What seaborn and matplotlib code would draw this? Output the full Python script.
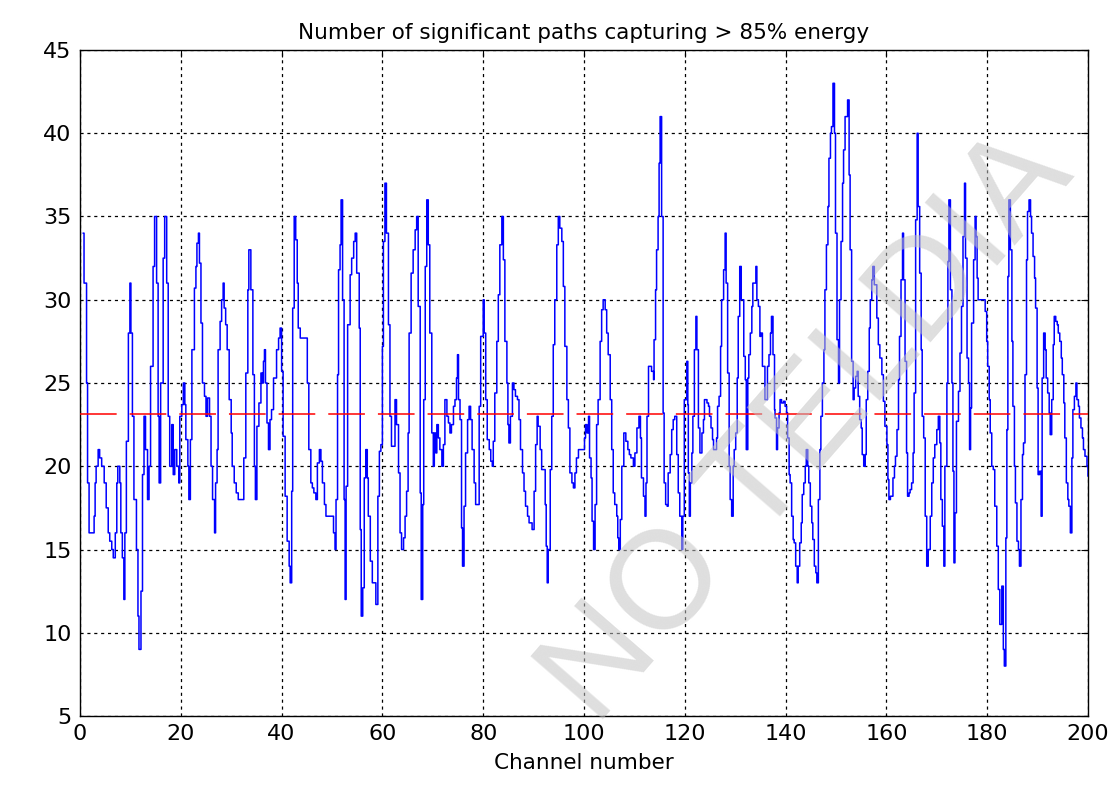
import numpy as np
import pandas as pd
import matplotlib
matplotlib.use("Agg")
import matplotlib.pyplot as plt
import seaborn as sns

# ---- data ----
channel = [
    0.6, 0.8, 1.3, 1.5, 1.8, 2.6, 2.8, 3.0, 3.2, 3.6, 3.9, 4.3, 4.8, 5.2, 5.6, 5.9, 6.3, 6.6, 7.0, 7.3,
    7.5, 7.9, 8.1, 8.4, 8.7, 8.9, 9.2, 9.6, 9.9, 10.1, 10.4, 10.7, 11.2, 11.5, 11.7, 12.1, 12.4, 12.7, 13.0, 13.4,
    13.7, 14.0, 14.5, 14.8, 15.2, 15.5, 15.7, 16.0, 16.5, 16.8, 17.2, 17.5, 17.8, 18.2, 18.5, 18.8,
    19.2, 19.6, 19.8, 20.2, 20.5, 20.8, 21.0, 21.4, 21.6, 21.9, 22.2, 22.7, 23.0, 23.2, 23.5, 23.7, 24.0, 24.3,
    24.7, 25.0, 25.3, 25.7, 26.0, 26.3, 26.7, 26.9, 27.2, 27.4, 27.8, 28.1, 28.4, 28.6, 28.9, 29.2, 29.6, 30.0,
    30.2, 30.6, 31.0, 31.4, 32.1, 32.5, 32.9, 33.3, 33.5, 33.9, 34.3, 34.6, 34.8, 35.1, 35.5, 35.9, 36.2, 36.4,
    36.6, 36.8, 37.1, 37.4, 37.7, 38.0, 38.4,
    38.7, 39.0, 39.4, 39.7, 40.0, 40.3, 40.7, 41.1, 41.5, 41.7, 42.0, 42.2, 42.5, 42.8, 43.1, 43.3, 43.7, 44.6,
    45.1, 45.4, 45.8, 46.1, 46.4, 46.8, 47.1, 47.5, 47.8, 48.1, 48.5, 48.8, 49.9, 50.3, 50.6, 50.8, 51.1, 51.3,
    51.6, 51.8, 52.1, 52.4, 52.6, 52.8, 53.1, 53.6, 53.9, 54.3, 54.6, 54.9, 55.4, 55.6, 55.8, 56.1, 56.4, 56.7,
    57.0, 57.2, 57.6, 58.0, 58.4, 58.7,
    59.1, 59.4, 59.7, 60.0, 60.2, 60.5, 60.8, 61.2, 61.5, 61.8, 62.2, 62.5, 62.8, 63.2, 63.5, 63.8, 64.2, 64.5,
    64.8, 65.1, 65.3, 65.7, 66.1, 66.5, 66.8, 67.1, 67.5, 67.7, 68.0, 68.2, 68.5, 68.8, 69.1, 69.4, 69.8, 70.1,
    70.3, 70.6, 70.8, 71.1, 71.4, 71.8, 72.1, 72.4, 72.8, 73.1, 73.4, 73.7, 74.1, 74.4, 74.7, 74.9, 75.1, 75.4,
    75.7, 75.9, 76.2, 76.5, 76.9, 77.2, 77.5, 77.8, 78.2, 78.5,
    79.2, 79.5, 79.8, 80.0, 80.2, 80.5, 80.8, 81.2, 81.5, 81.8, 82.0, 82.3, 82.7, 83.0, 83.3, 83.7, 84.0, 84.3,
    84.7, 84.9, 85.1, 85.4, 85.8, 86.1, 86.4, 86.8, 87.1, 87.4, 87.8, 88.1, 88.4, 88.8, 89.1, 89.7, 90.1, 90.4,
    90.7, 90.9, 91.3, 91.6, 91.9, 92.3, 92.5, 92.7, 92.9, 93.3, 93.6, 93.9, 94.2, 94.6, 94.9, 95.2, 95.6, 95.9,
    96.2, 96.6, 96.9, 97.2, 97.6, 97.9, 98.2,
    98.5, 98.9, 99.7, 100.1, 100.3, 100.6, 100.9, 101.1, 101.4, 101.6, 101.9, 102.2, 102.5, 102.8, 103.2, 103.5,
    103.8, 104.2, 104.5, 104.8, 105.2, 105.5, 105.8, 106.1, 106.5, 106.7, 106.9, 107.2, 107.5, 107.9, 108.3,
    108.7, 109.0, 109.3, 109.8, 110.1, 110.5, 110.9, 111.2, 111.4, 111.8, 112.1, 112.3, 112.5, 112.8, 113.1,
    113.4, 113.8, 113.9, 114.2, 114.4, 114.7, 114.9, 115.1, 115.4, 115.7, 115.9, 116.2, 116.5, 116.7, 117.1,
    117.4, 117.7, 118.0, 118.4, 118.7, 119.0, 119.4,
    119.6, 119.9, 120.2, 120.4, 120.6, 120.7, 120.9, 121.1, 121.4, 121.6, 121.9, 122.2, 122.4, 122.7, 123.0,
    123.4, 123.7, 123.9, 124.1, 124.4, 124.7, 124.9, 125.2, 125.5, 125.7, 126.0, 126.3, 126.5, 126.8, 127.1,
    127.3, 127.7, 128.0, 128.2, 128.5, 128.8, 129.0, 129.3, 129.6, 129.8, 130.1, 130.4, 130.6, 130.9, 131.2,
    131.4, 131.7, 132.0, 132.2, 132.5, 132.7, 133.0, 133.3, 133.5, 133.8, 134.1, 134.3, 134.6, 134.9, 135.1,
    135.4, 135.7, 135.9, 136.2, 136.4, 136.7, 137.0, 137.2, 137.5, 137.8,
    137.9, 138.2, 138.4, 138.7, 138.9, 139.2, 139.6, 139.9, 140.2, 140.4, 140.7, 140.9, 141.2, 141.5, 141.7,
    142.0, 142.3, 142.5, 142.8, 143.1, 143.3, 143.6, 143.9, 144.1, 144.4, 144.6, 144.9, 145.2, 145.4, 145.7,
    146.0, 146.2, 146.5, 146.8, 147.0, 147.3, 147.6, 147.8, 148.1, 148.4, 148.6, 148.9, 149.1, 149.4, 149.7,
    149.9, 150.2, 150.5, 150.7, 151.0, 151.3, 151.5, 151.8, 152.1, 152.3, 152.6, 152.8, 153.1, 153.4, 153.6,
    153.9, 154.2, 154.4, 154.7, 155.0, 155.2, 155.5, 155.8, 156.0, 156.3, 156.6, 156.8, 157.1, 157.3, 157.6,
    158.1, 158.4, 158.7, 159.1, 159.4, 159.7, 160.1, 160.3, 160.5, 160.8, 161.0, 161.3, 161.6, 161.8, 162.1,
    162.4, 162.6, 162.9, 163.2, 163.4, 163.7, 164.0, 164.2, 164.5, 164.7, 165.0, 165.3, 165.5, 165.8, 166.1,
    166.3, 166.6, 166.9, 167.1, 167.4, 167.7, 168.0, 168.3, 168.7, 169.0, 169.3, 169.6, 170.0, 170.3, 170.6,
    170.8, 171.1, 171.4, 171.6, 172.0, 172.2, 172.4, 172.7, 173.0, 173.2, 173.4, 173.6, 173.9, 174.3, 174.6,
    174.9, 175.2, 175.5, 175.7, 176.0, 176.3, 176.5, 176.7, 176.9, 177.3,
    177.6, 177.8, 178.0, 178.2, 179.2, 179.6, 179.9, 180.1, 180.4, 180.6, 180.9, 181.2, 181.5, 181.9, 182.2,
    182.5, 182.9, 183.2, 183.4, 183.7, 183.9, 184.1, 184.3, 184.6, 184.9, 185.1, 185.4, 185.6, 185.9, 186.2,
    186.4, 186.7, 187.0, 187.2, 187.5, 187.8, 188.0, 188.3, 188.6, 188.8, 189.1, 189.4, 189.6, 189.9, 190.1,
    190.4, 190.7, 190.9, 191.2, 191.5, 191.7, 192.0, 192.3, 192.5, 192.8, 193.1, 193.3, 193.6, 193.9, 194.1,
    194.4, 194.7, 194.9, 195.2, 195.4, 195.7, 196.0, 196.2, 196.5, 196.8, 197.0, 197.3, 197.6, 197.8, 198.1,
    198.3, 198.6, 198.9, 199.1, 199.4, 199.8, 200.0,
]

paths = [
    34, 31, 25, 19, 16, 16, 17, 19, 20, 21, 20.5, 20, 19, 17.5, 16, 15.5, 15, 14.5, 16, 19,
    20, 19, 16, 14.5, 12, 16, 21.5, 28, 31, 28, 23, 18, 15, 11, 9, 12.5, 19.5, 23, 21, 18,
    20, 26, 32, 35, 31, 23, 19, 25, 32.5, 35, 31, 23, 20, 22.5, 19.5, 21,
    20, 19, 23, 23.7, 25, 23.7, 21.6, 20, 18, 21.6, 27, 30.7, 32, 33.4, 34, 32.2, 28.6, 25,
    24.2, 23, 24.1, 23, 20, 18, 16, 19, 21, 27, 28.7, 30, 31, 29.5, 28.5, 27, 24, 22,
    20, 19, 18.4, 18, 18, 20.5, 25.6, 30.6, 33, 30.6, 25.5, 20, 18, 22.4, 23.8, 25.6, 25, 26.3,
    27, 25, 22.6, 21, 22.8, 23.4, 25.3,
    25.3, 27, 27.7, 28.3, 25.7, 21.8, 18.2, 15.5, 14, 13, 18.5, 29.5, 35, 33.6, 31, 28.3, 27.7, 27.7,
    25, 21, 19, 18.7, 18.4, 18, 20.2, 21, 20.3, 19, 17.7, 17, 17, 16, 15, 18, 25.5, 31.8,
    33.3, 36, 30, 18, 12, 18.8, 28.5, 31.5, 32.5, 33.5, 34, 31.6, 28.3, 16.2, 11, 12.7, 19.3, 21,
    19.3, 17, 14.3, 13, 13, 11.7,
    18.2, 20.9, 21.3, 27.2, 33.5, 37, 34, 28.5, 23, 21.2, 21.2, 24, 22.5, 19.6, 16, 15, 15.7, 17,
    18.5, 22, 28, 31.6, 33, 34.2, 35, 29.6, 18.4, 12, 17.7, 24, 32, 36, 33.3, 28, 22, 20,
    22, 20.8, 22.5, 21.7, 21, 20, 21.3, 24, 23, 22.6, 22, 22.5, 23.6, 24, 25.3, 26.7, 24, 22.8,
    16.3, 14, 17.6, 20.8, 22.8, 23.6, 22.8, 21, 19, 17.7,
    23.6, 27.8, 27.8, 30, 28, 24, 21.6, 21, 20.3, 20, 21.5, 24.4, 27.5, 30.3, 33.3, 35, 32.4, 27.5,
    25, 22.5, 21.4, 23, 25, 24.6, 24.2, 24, 22.8, 21, 19.6, 18.5, 17.6, 17, 16.6, 16.2, 18.5, 21.3,
    23, 22.4, 21, 19.8, 19.8, 17.7, 15.2, 13, 15, 19.8, 23, 27.3, 30, 33.3, 35, 34.3, 33.5, 30.8,
    27.2, 24, 22.3, 19.6, 19, 18.7, 19.6,
    20.5, 21, 21, 21.7, 22.5, 22, 23, 20.5, 19.3, 16.7, 15, 17.7, 22.5, 24, 27.5, 29.4,
    30, 29.4, 28, 26.7, 24, 21, 18.4, 17.7, 17, 15.7, 15, 16.8, 20, 22, 21.5,
    21, 20.7, 20.5, 20, 20.8, 22.3, 23, 21.7, 19.3, 18.2, 17, 19, 23, 26, 26,
    25.7, 25.2, 27.6, 30.6, 33, 35, 38.2, 41, 35, 23.2, 19, 17.7, 17.6, 19.6, 20.7,
    22.2, 22.8, 23, 20.7, 18.4, 17, 15,
    17, 24, 24, 26.3, 23.7, 19.6, 17, 19, 20.8, 23, 27, 29, 27, 22.3, 20.8,
    22, 22.8, 24, 24, 23.8, 23.6, 23, 22.3, 21.6, 21, 21, 21.7, 23.6, 24.2, 27.2,
    30, 31.8, 34, 31, 25.6, 20, 18, 17, 20, 21, 22, 25.3, 29, 32, 30,
    30, 26.6, 25.2, 21, 25.3, 26.7, 28, 29.6, 31, 31, 32, 30, 29.6, 27.8, 28,
    26, 26, 24, 24, 26, 26.7, 28, 29, 26.7, 23.4,
    22.9, 21, 22.3, 23.2, 24, 23.8, 23.9, 23.6, 23.2, 21.7, 19.5, 19, 17, 15.6, 15.4,
    14, 13, 14, 15.4, 16.6, 18.3, 19, 20, 21, 20, 19, 17.6, 16.6, 15.6, 14,
    13.6, 13, 18, 21, 23, 25, 27, 30.6, 33.3, 35.6, 38.5, 40, 40.4, 43, 40,
    34, 27.6, 25, 30, 33.5, 37, 39, 41, 41, 42, 37.5, 33, 26.3, 24, 24.7,
    25.4, 25.7, 24.2, 22.8, 22.3, 20.7, 20, 20.7, 24, 25.7, 28.3, 30, 31.2, 32, 30.9,
    28.9, 27.3, 26.5, 25.5, 23.9, 22.4, 21.3, 19.2, 18, 18.2, 18.2, 19.3, 20, 20.6, 22.2,
    25.2, 27.8, 31.2, 34, 31.2, 26.3, 20.8, 18.2, 18.4, 18.6, 19, 20.8, 24.4, 34.8, 40,
    35.6, 31.6, 27, 23, 21.7, 17, 14, 15, 17, 19, 20.5, 21.3, 22.2, 23, 21.4,
    18, 16.4, 14, 20, 25, 32.3, 36, 30.6, 25, 19.7, 14.2, 17.2, 22.7, 24.5, 26.8,
    29.6, 33.8, 37, 32.5, 26.5, 25, 21, 23.5, 28.6, 32.4,
    35, 33.8, 31.3, 30, 30, 29.3, 27.5, 26, 24, 22, 20, 19.8, 17.6, 15.2, 12.6,
    10.5, 12.8, 9, 8, 15.7, 22.2, 31.4, 36, 33, 27.5, 23.6, 20, 17.8, 15.5, 15,
    14, 18, 20.7, 21.4, 25.5, 32.4, 35.3, 36, 35, 34, 32.6, 31.3, 29.5, 24.7, 19.5,
    19.7, 17, 25.3, 28, 27, 25.3, 24.4, 23.2, 21.9, 24, 27.3, 29, 28.7, 28.5, 28,
    27.5, 26.5, 25.5, 23.8, 21.7, 19, 18, 17.6, 16, 20.5, 23.4, 24.2, 25, 24, 23.6,
    22.9, 22.3, 21.7, 21, 20.6, 20, 19.4,
]

mean_level = 23.15
x_ticks = [0, 20, 40, 60, 80, 100, 120, 140, 160, 180, 200]
y_ticks = [5, 10, 15, 20, 25, 30, 35, 40, 45]
title = "Number of significant paths capturing > 85% energy"
xlabel = "Channel number"

df = pd.DataFrame({"channel": channel, "paths": paths})

sns.set_theme(style="white")
plt.rcParams["font.family"] = ["DejaVu Sans"]

fig = plt.figure(figsize=(11.2, 7.85), dpi=100)
ax = fig.add_axes([80 / 1120, 1 - 716 / 785, 1008 / 1120, 666 / 785])
ax.set_facecolor("white")

sns.lineplot(data=df, x="channel", y="paths", ax=ax, color="#0000ff",
             linewidth=1.1, drawstyle="steps-post", estimator=None, sort=False, zorder=3)
ax.axhline(mean_level, color="#ff0000", linewidth=1.1, dashes=(24, 8.5), zorder=4)

ax.set_xlim(0, 200)
ax.set_ylim(5, 45)
ax.set_xticks(x_ticks)
ax.set_yticks(y_ticks)
ax.grid(True, color="black", linestyle=(0, (2.5, 3)), linewidth=0.9)
ax.tick_params(axis="both", which="both", direction="in", length=5, width=0.8,
               top=True, right=True, labelsize=16, colors="black", pad=6)
for s in ax.spines.values():
    s.set_color("black")
    s.set_linewidth(1.0)
ax.set_title(title, fontsize=15.5, pad=8, color="black")
ax.set_xlabel(xlabel, fontsize=15.5, labelpad=6, color="black")
ax.set_ylabel("")

# watermark
fig.text(0.722, 0.455, "NO TELDIA", rotation=49, fontsize=100, color="#c4c4c4",
         family="Liberation Sans", alpha=0.55, ha="center", va="center", zorder=10)

fig.savefig("out.png", dpi=100)
